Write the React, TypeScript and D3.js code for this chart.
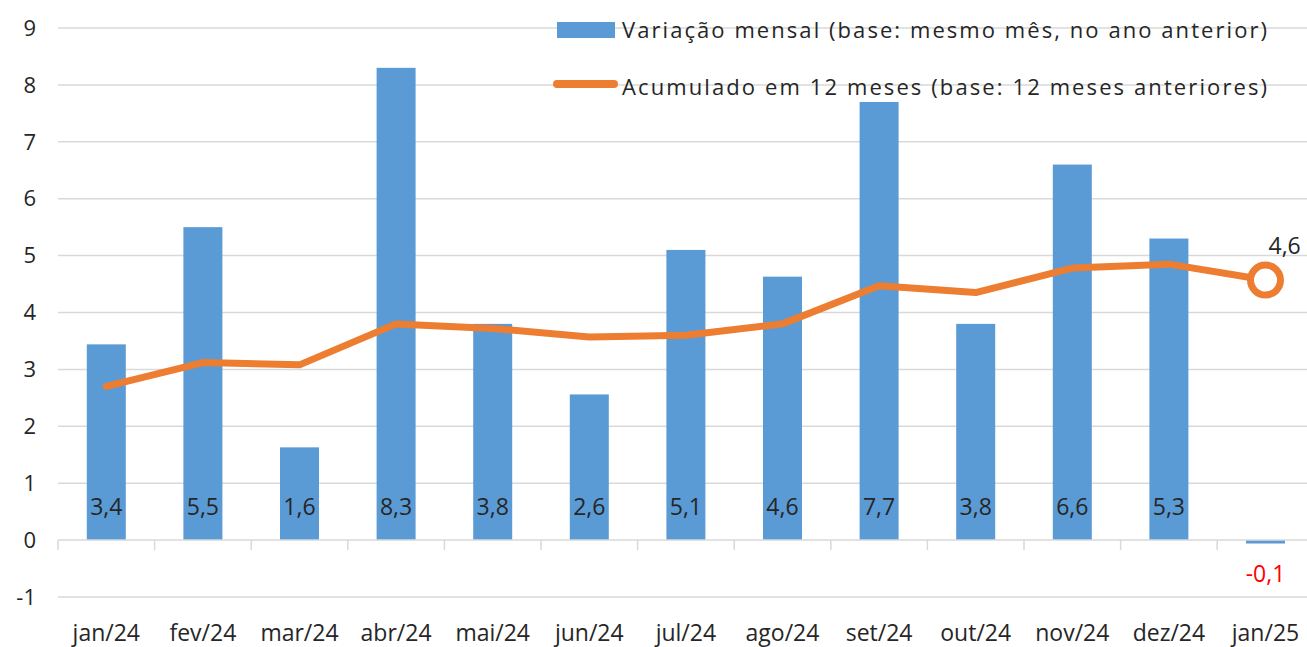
import React from "react";
import * as d3 from "d3";

const categories = ["jan/24","fev/24","mar/24","abr/24","mai/24","jun/24","jul/24","ago/24","set/24","out/24","nov/24","dez/24","jan/25"];
const monthly = [3.44, 5.5, 1.63, 8.3, 3.8, 2.56, 5.1, 4.63, 7.7, 3.8, 6.6, 5.3, -0.06];
const accumulated = [2.7, 3.12, 3.08, 3.8, 3.72, 3.57, 3.6, 3.8, 4.47, 4.35, 4.78, 4.85, 4.57];
const yTicks = [-1, 0, 1, 2, 3, 4, 5, 6, 7, 8, 9];
const legendLabels = ["Variação mensal (base: mesmo mês, no ano anterior)", "Acumulado em 12 meses (base: 12 meses anteriores)"];

const W = 1307, H = 647;
const FONT = "'Open Sans', 'Noto Sans', sans-serif";

export default function App() {
  const band = d3.scaleBand<string>().domain(categories).range([58, 58 + 13 * 96.6]);
  const y = d3.scaleLinear().domain([-1, 9]).range([597, 28]);
  const fmt = (v: number) => v.toFixed(1).replace(".", ",");
  const cx = (c: string) => (band(c) ?? 0) + band.bandwidth() / 2;
  const line = d3.line<number>().x((_, i) => cx(categories[i])).y(d => y(d)).curve(d3.curveLinear);
  const last = accumulated.length - 1;
  return (
    <svg width={W} height={H} style={{ position: "absolute", left: 0, top: 0, background: "#fff" }} fontFamily={FONT}>
      {yTicks.map(t => (
        <g key={t}>
          {t !== 0 && <line x1={58} x2={W} y1={y(t)} y2={y(t)} stroke="#d9d9d9" strokeWidth={1.5} />}
          <text x={36} y={y(t)} dy="0.35em" textAnchor="end" fontSize={22} fill="#262626">{t}</text>
        </g>
      ))}
      {monthly.map((v, i) => {
        const c = categories[i];
        const y0 = y(0), y1 = y(v);
        return <rect key={c} x={cx(c) - 19.5} width={39} y={Math.min(y0, y1)} height={Math.abs(y1 - y0)} fill="#5B9BD5" />;
      })}
      <line x1={58} x2={W} y1={y(0)} y2={y(0)} stroke="#d9d9d9" strokeWidth={1.5} />
      {categories.map(c => (
        <line key={c} x1={band(c)} x2={band(c)} y1={y(0)} y2={y(0) + 10} stroke="#d9d9d9" strokeWidth={1.5} />
      ))}
      <path d={line(accumulated) ?? ""} fill="none" stroke="#ED7D31" strokeWidth={7} strokeLinecap="round" strokeLinejoin="round" />
      <circle cx={cx(categories[last])} cy={y(accumulated[last])} r={15} fill="#fff" stroke="#ED7D31" strokeWidth={7} />
      <text x={cx(categories[last]) + 3} y={y(accumulated[last]) - 26} fontSize={23} fill="#262626">{fmt(accumulated[last])}</text>
      {monthly.map((v, i) => {
        const c = categories[i];
        if (v >= 0) {
          return <text key={c} x={cx(c)} y={y(0.58)} dy="0.35em" textAnchor="middle" fontSize={23} fill="#262626">{fmt(v)}</text>;
        }
        return <text key={c} x={cx(c)} y={y(-0.6)} dy="0.35em" textAnchor="middle" fontSize={23} fill="#FF0000">{fmt(v)}</text>;
      })}
      {categories.map(c => (
        <text key={c} x={cx(c)} y={633} dy="0.35em" textAnchor="middle" fontSize={23} fill="#262626">{c}</text>
      ))}
      <rect x={557} y={22} width={58} height={16} fill="#5B9BD5" />
      <text x={622} y={30} dy="0.35em" fontSize={22} fill="#262626" textLength={645} lengthAdjust="spacing">{legendLabels[0]}</text>
      <line x1={557} x2={614} y1={84} y2={84} stroke="#ED7D31" strokeWidth={8} strokeLinecap="round" />
      <text x={622} y={87} dy="0.35em" fontSize={22} fill="#262626" textLength={645} lengthAdjust="spacing">{legendLabels[1]}</text>
    </svg>
  );
}
